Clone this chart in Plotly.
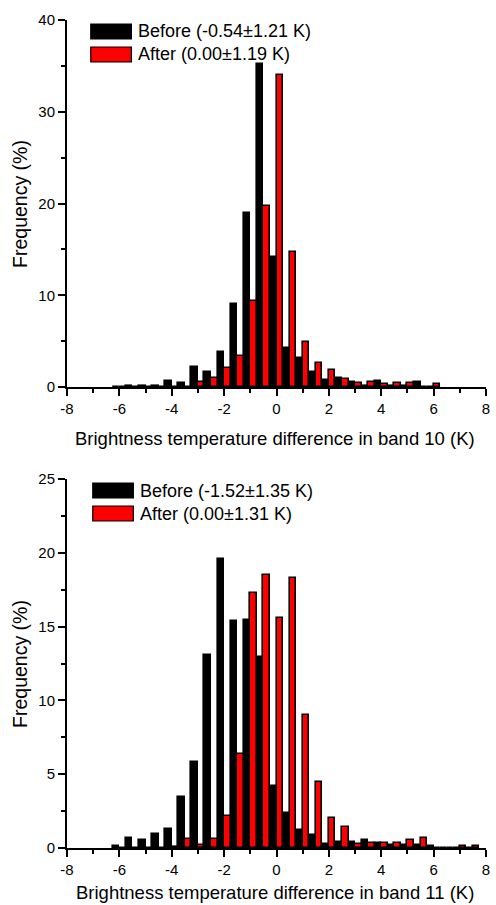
import plotly.graph_objects as go

# ---------------- data ----------------
bin_centers_10 = [-6.0, -5.5, -5.0, -4.5, -4.0, -3.5, -3.0, -2.5, -2.0, -1.5, -1.0, -0.5,
                  0.0, 0.5, 1.0, 1.5, 2.0, 2.5, 3.0, 3.5, 4.0, 4.5, 5.0, 5.5, 6.0]
before_10 = [0.0, 0.1, 0.1, 0.08, 0.65, 0.48, 2.15, 1.6, 3.85, 9.0, 19.0, 35.2,
             14.2, 4.2, 3.2, 1.6, 0.75, 0.95, 0.6, 0.12, 0.62, 0.1, 0.12, 0.5, 0.05]
after_10 = [0.0, 0.0, 0.05, 0.03, 0.0, 0.05, 0.55, 0.95, 2.1, 3.4, 9.4, 19.7,
            34.0, 14.7, 4.95, 2.65, 1.9, 0.9, 0.45, 0.6, 0.3, 0.45, 0.48, 0.05, 0.3]

bin_centers_11 = [-6.0, -5.5, -5.0, -4.5, -4.0, -3.5, -3.0, -2.5, -2.0, -1.5, -1.0, -0.5,
                  0.0, 0.5, 1.0, 1.5, 2.0, 2.5, 3.0, 3.5, 4.0, 4.5, 5.0, 5.5, 6.0, 6.5, 7.0, 7.5]
before_11 = [0.14, 0.68, 0.52, 0.92, 1.3, 3.45, 5.8, 13.1, 19.6, 15.4, 15.45, 12.95,
             4.2, 2.4, 1.2, 0.9, 0.3, 0.38, 0.38, 0.52, 0.36, 0.18, 0.18, 0.2, 0.14, 0.0, 0.0, 0.0]
after_11 = [0.0, 0.0, 0.0, 0.0, 0.05, 0.62, 0.22, 0.6, 2.2, 6.4, 17.25, 18.5,
            15.55, 18.3, 9.0, 4.45, 2.0, 1.4, 0.29, 0.35, 0.35, 0.35, 0.52, 0.68, 0.0, 0.0, 0.12, 0.12]

x_tick_vals = [-8, -6, -4, -2, 0, 2, 4, 6, 8]
x_tick_text = ["-8", "-6", "-4", "-2", "0", "2", "4", "6", "8"]
y_tick_vals_10 = [0, 10, 20, 30, 40]
y_tick_vals_11 = [0, 5, 10, 15, 20, 25]
legend_10 = ["Before (-0.54\u00b11.21 K)", "After (0.00\u00b11.19 K)"]
legend_11 = ["Before (-1.52\u00b11.35 K)", "After (0.00\u00b11.31 K)"]
x_titles = ["Brightness temperature difference in band 10 (K)",
            "Brightness temperature difference in band 11 (K)"]
y_title = "Frequency (%)"

# ---------------- layout helpers ----------------
W, H = 496, 905
ML, MR, MT, MB = 67, 6, 20, 57
PW, PH = W - ML - MR, H - MT - MB
FONT = "Liberation Sans"


def px(x):
    return (x - ML) / PW


def py(y):
    return (H - MB - y) / PH


fig = go.Figure()
line = dict(color="black", width=1.6)
fig.add_trace(go.Bar(x=bin_centers_10, y=before_10, marker=dict(color="black", line=line),
                     xaxis="x", yaxis="y", showlegend=False))
fig.add_trace(go.Bar(x=bin_centers_10, y=after_10, marker=dict(color="#ff0000", line=line),
                     xaxis="x", yaxis="y", showlegend=False))
fig.add_trace(go.Bar(x=bin_centers_11, y=before_11, marker=dict(color="black", line=line),
                     xaxis="x2", yaxis="y2", showlegend=False))
fig.add_trace(go.Bar(x=bin_centers_11, y=after_11, marker=dict(color="#ff0000", line=line),
                     xaxis="x2", yaxis="y2", showlegend=False))

xcommon = dict(range=[-8, 8], tickvals=x_tick_vals, ticktext=x_tick_text,
               ticks="outside", ticklen=7, tickwidth=2, tickcolor="black",
               showline=True, linecolor="black", linewidth=2, showgrid=False, zeroline=False,
               minor=dict(ticks="outside", ticklen=4, tickwidth=2, tickcolor="black", dtick=1, tick0=0),
               tickfont=dict(family=FONT, size=15, color="black"))
ycommon = dict(ticks="outside", ticklen=7, tickwidth=2, tickcolor="black",
               showline=True, linecolor="black", linewidth=2, showgrid=False, zeroline=False,
               tickfont=dict(family=FONT, size=15, color="black"))

top_dom = [py(387), 1.0]
bot_dom = [0.0, py(479)]

fig.update_layout(
    width=W, height=H, margin=dict(l=ML, r=MR, t=MT, b=MB),
    paper_bgcolor="white", plot_bgcolor="white",
    font=dict(family=FONT, color="black"),
    barmode="group", bargap=0, bargroupgap=0,
    xaxis=dict(anchor="y", **xcommon),
    yaxis=dict(anchor="x", domain=top_dom, range=[0, 40], tickvals=y_tick_vals_10,
               minor=dict(ticks="outside", ticklen=4, tickwidth=2, tickcolor="black", dtick=5, tick0=0),
               **ycommon),
    xaxis2=dict(anchor="y2", **xcommon),
    yaxis2=dict(anchor="x2", domain=bot_dom, range=[0, 25], tickvals=y_tick_vals_11,
                minor=dict(ticks="outside", ticklen=4, tickwidth=2, tickcolor="black", dtick=2.5, tick0=0),
                **ycommon),
)

shapes = []
annotations = []
# legends
for labels, ys, x0 in [(legend_10, [(24, 39), (47, 62)], 91), (legend_11, [(483, 498), (506, 521)], 93)]:
    for lab, (y0, y1), col in zip(labels, ys, ["black", "#ff0000"]):
        shapes.append(dict(type="rect", xref="paper", yref="paper",
                           x0=px(x0), x1=px(x0 + 41), y0=py(y1), y1=py(y0),
                           fillcolor=col, line=dict(color="black", width=1.2)))
        annotations.append(dict(xref="paper", yref="paper", x=px(x0 + 46), y=py((y0 + y1) / 2),
                                xanchor="left", yanchor="middle", showarrow=False, text=lab,
                                font=dict(family=FONT, size=18, color="black")))
# axis titles
for t, yc in zip(x_titles, [438, 892]):
    annotations.append(dict(xref="paper", yref="paper", x=px(277), y=py(yc), xanchor="center",
                            yanchor="middle", showarrow=False, text=t,
                            font=dict(family=FONT, size=18.5, color="black")))
for yc in [203.5, 663.5]:
    annotations.append(dict(xref="paper", yref="paper", x=px(19), y=py(yc), xanchor="center",
                            yanchor="middle", showarrow=False, text=y_title, textangle=-90,
                            font=dict(family=FONT, size=19.5, color="black")))

fig.update_layout(shapes=shapes, annotations=annotations)
fig.write_html("out.html")
